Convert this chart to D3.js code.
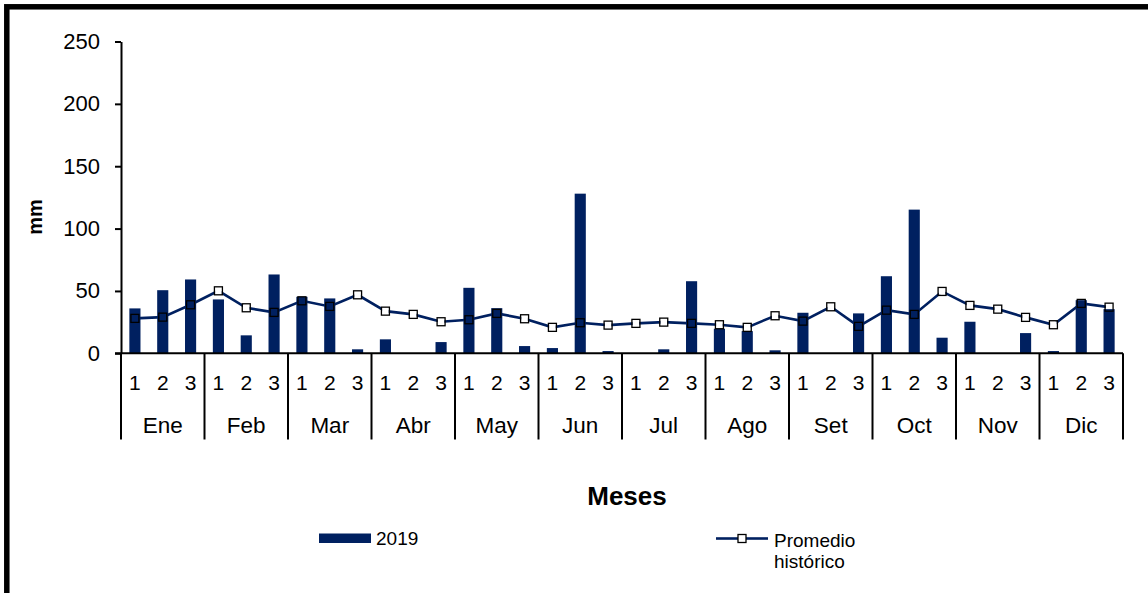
<!DOCTYPE html>
<html>
<head>
<meta charset="utf-8">
<script src="https://cdn.jsdelivr.net/npm/d3@7"></script>
<style>
html,body{margin:0;padding:0;background:#fff;}
svg{display:block;font-family:"Liberation Sans",Arial,sans-serif;}
</style>
</head>
<body>
<svg id="chart" width="1148" height="593"></svg>
<script>
const months = ["Ene","Feb","Mar","Abr","May","Jun","Jul","Ago","Set","Oct","Nov","Dic"];
const dekads = ["1","2","3"];
const rain2019 = [36,50.6,59.2, 43.2,14.4,63.2, 45.3,44,3.2, 11.2,0,9, 52.5,36.2,5.8, 4.2,128,1.8,
                  0,3.2,57.8, 19.7,17.8,2.4, 32.5,0,32, 61.8,115.2,12.5, 25.3,0,16.2, 1.8,42.6,35.4];
const promedio = [28,29,38.9, 50.1,36.5,32.8, 42.1,37.6,46.9, 33.8,31.2,25.3, 26.9,32,27.7, 20.8,24.5,22.6,
                  24,25,24, 22.9,20.8,30.1, 25.8,37.3,21.6, 34.6,31.2,49.6, 38.4,35.4,28.8, 22.9,40,37];
const yTicks = [0,50,100,150,200,250];
const seriesNames = ["2019","Promedio histórico"];
const yTitle = "mm";
const xTitle = "Meses";

const NAVY = "#002060";
const svg = d3.select("#chart");

// frame
svg.append("rect").attr("x",6.8).attr("y",6.8).attr("width",1160).attr("height",610)
  .attr("fill","none").attr("stroke","#000").attr("stroke-width",5.5);

const x0 = 121, x1 = 1123, yTop = 41.5, yBot = 353.3;
const slots = [];
months.forEach(m => dekads.forEach(d => slots.push(m + "-" + d)));

const x = d3.scaleBand().domain(slots).range([x0, x1]).paddingInner(0.6).paddingOuter(0.3);
const xm = d3.scaleBand().domain(months).range([x0, x1]).padding(0);
const y = d3.scaleLinear().domain([0,250]).range([yBot, yTop]);

// bars
svg.append("g").selectAll("rect").data(rain2019).join("rect")
  .attr("x",(d,i)=>x(slots[i]))
  .attr("width",x.bandwidth())
  .attr("y",d=>y(d))
  .attr("height",d=>y(0)-y(d))
  .attr("fill",NAVY);

// line with mask so markers are hollow
const cx = i => x(slots[i]) + x.bandwidth()/2;
const ms = 8;
const defs = svg.append("defs");
const mask = defs.append("mask").attr("id","mk").attr("maskUnits","userSpaceOnUse")
  .attr("x",0).attr("y",0).attr("width",1148).attr("height",593);
mask.append("rect").attr("x",0).attr("y",0).attr("width",1148).attr("height",593).attr("fill","#fff");
mask.selectAll("rect.h").data(promedio).join("rect").attr("class","h")
  .attr("x",(d,i)=>cx(i)-ms/2+0.7).attr("y",d=>y(d)-ms/2+0.7)
  .attr("width",ms-1.4).attr("height",ms-1.4).attr("fill","#000");

const line = d3.line().x((d,i)=>cx(i)).y(d=>y(d));
svg.append("path").datum(promedio).attr("d",line).attr("fill","none")
  .attr("stroke",NAVY).attr("stroke-width",2.6).attr("mask","url(#mk)");

svg.append("g").selectAll("rect").data(promedio).join("rect")
  .attr("x",(d,i)=>cx(i)-ms/2).attr("y",d=>y(d)-ms/2)
  .attr("width",ms).attr("height",ms)
  .attr("fill","none").attr("stroke","#000").attr("stroke-width",1.3);

// y axis
const yAxis = d3.axisLeft(y).tickValues(yTicks).tickSize(6).tickSizeOuter(0).tickPadding(15);
const gy = svg.append("g").attr("transform",`translate(${x0},0)`).call(yAxis);
gy.select(".domain").attr("stroke","#000").attr("stroke-width",2);
gy.selectAll(".tick line").attr("stroke","#000").attr("stroke-width",2);
gy.selectAll(".tick text").attr("font-size",22).attr("fill","#000")
  .attr("font-family","'Liberation Sans',Arial,sans-serif");

// x axis line
svg.append("line").attr("x1",x0-6).attr("x2",x1).attr("y1",yBot).attr("y2",yBot)
  .attr("stroke","#000").attr("stroke-width",2);

// month dividers
const bounds = months.map(m => xm(m)).concat([x1]);
svg.append("g").selectAll("line").data(bounds).join("line")
  .attr("x1",d=>d).attr("x2",d=>d).attr("y1",yBot).attr("y2",439.5)
  .attr("stroke","#000").attr("stroke-width",2);

// dekad labels
svg.append("g").selectAll("text").data(slots).join("text")
  .attr("x",d=>x(d)+x.bandwidth()/2).attr("y",382.5).attr("dy","0.36em")
  .attr("text-anchor","middle").attr("font-size",21).attr("fill","#000")
  .text(d=>d.split("-")[1]);

// month labels
svg.append("g").selectAll("text").data(months).join("text")
  .attr("x",d=>xm(d)+xm.bandwidth()/2).attr("y",424.5).attr("dy","0.36em")
  .attr("text-anchor","middle").attr("font-size",22.5).attr("fill","#000")
  .text(d=>d);

// titles
svg.append("text").attr("transform","translate(35,217) rotate(-90)")
  .attr("text-anchor","middle").attr("dy","0.36em").attr("font-size",20).attr("font-weight","bold")
  .text(yTitle);
svg.append("text").attr("x",627).attr("y",496).attr("dy","0.36em")
  .attr("text-anchor","middle").attr("font-size",26).attr("font-weight","bold").text(xTitle);

// legend
svg.append("rect").attr("x",319).attr("y",533.5).attr("width",52).attr("height",9.5).attr("fill",NAVY);
svg.append("text").attr("x",376).attr("y",538.5).attr("dy","0.36em").attr("font-size",19).text(seriesNames[0]);
svg.append("line").attr("x1",716).attr("x2",738).attr("y1",538.5).attr("y2",538.5).attr("stroke",NAVY).attr("stroke-width",2.6);
svg.append("line").attr("x1",746).attr("x2",768).attr("y1",538.5).attr("y2",538.5).attr("stroke",NAVY).attr("stroke-width",2.6);
svg.append("rect").attr("x",738).attr("y",534.5).attr("width",8).attr("height",8)
  .attr("fill","none").attr("stroke","#000").attr("stroke-width",1.3);
const lt = svg.append("text").attr("x",774).attr("y",546.5).attr("font-size",19);
lt.append("tspan").attr("x",774).text("Promedio");
lt.append("tspan").attr("x",774).attr("dy",21).text("histórico");
</script>
</body>
</html>
